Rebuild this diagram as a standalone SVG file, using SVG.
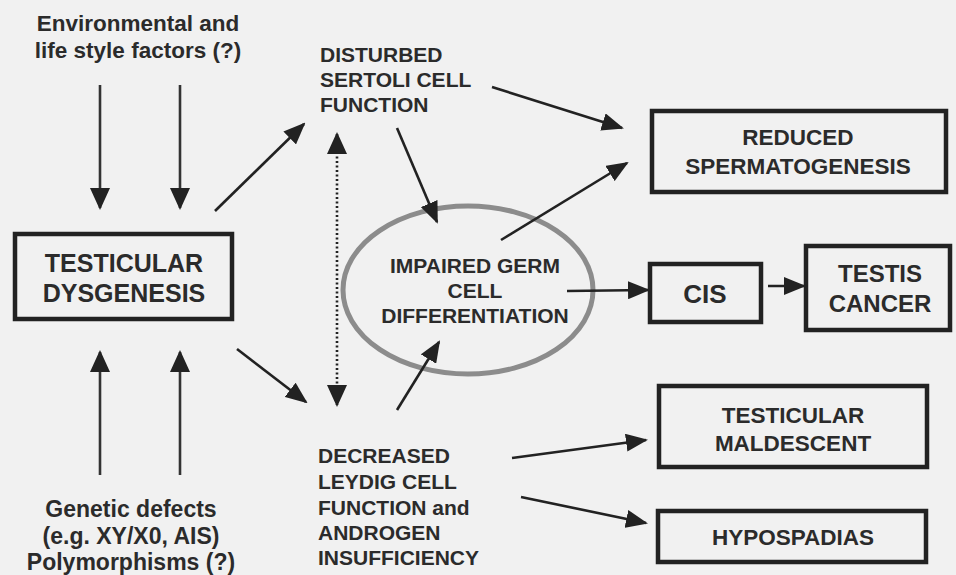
<svg xmlns="http://www.w3.org/2000/svg" width="956" height="575" viewBox="0 0 956 575">
<style>
.t{font-family:"Liberation Sans",Arial,sans-serif;font-weight:bold;fill:#2b2b2b}
.box{fill:none;stroke:#222;stroke-width:4.5}
.c{stroke:#222;stroke-width:2.6;fill:none;marker-end:url(#ah)}
.v{stroke:#333;stroke-width:2.6;fill:none;marker-end:url(#ahb)}
</style>
<defs>
<marker id="ah" viewBox="0 0 22 18" refX="20" refY="9" markerWidth="22" markerHeight="18" markerUnits="userSpaceOnUse" orient="auto-start-reverse">
<path d="M0,0 L22,9 L0,18 z" fill="#222"/>
</marker>
<marker id="ahb" viewBox="0 0 22 20" refX="20" refY="10" markerWidth="22" markerHeight="20" markerUnits="userSpaceOnUse" orient="auto-start-reverse">
<path d="M0,0 L22,10 L0,20 z" fill="#222"/>
</marker>
</defs>
<rect width="956" height="575" fill="#f1f1f1"/>

<g id="env">
<text class="t" font-size="22.5" text-anchor="middle" x="138" y="31">Environmental and</text>
<text class="t" font-size="22.5" text-anchor="middle" x="138" y="58">life style factors (?)</text>
</g>
<g id="genetic">
<text class="t" font-size="23" text-anchor="middle" x="131" y="517">Genetic defects</text>
<text class="t" font-size="23" text-anchor="middle" x="131" y="544">(e.g. XY/X0, AIS)</text>
<text class="t" font-size="23" text-anchor="middle" x="131" y="570">Polymorphisms (?)</text>
</g>
<g id="dysgenesis">
<rect class="box" x="15" y="234" width="217" height="85"/>
<text class="t" font-size="25" text-anchor="middle" x="124" y="272">TESTICULAR</text>
<text class="t" font-size="25" text-anchor="middle" x="124" y="302">DYSGENESIS</text>
</g>
<g id="sertoli">
<text class="t" font-size="21" x="320" y="62">DISTURBED</text>
<text class="t" font-size="21" x="320" y="87">SERTOLI CELL</text>
<text class="t" font-size="21" x="320" y="112">FUNCTION</text>
</g>
<g id="leydig">
<text class="t" font-size="21" x="318" y="463">DECREASED</text>
<text class="t" font-size="21" x="318" y="489">LEYDIG CELL</text>
<text class="t" font-size="21" x="318" y="515">FUNCTION and</text>
<text class="t" font-size="21" x="318" y="540">ANDROGEN</text>
<text class="t" font-size="21" x="318" y="565">INSUFFICIENCY</text>
</g>
<g id="germ">
<ellipse cx="468" cy="290" rx="125" ry="84" fill="none" stroke="#8c8c8c" stroke-width="5"/>
<text class="t" font-size="21" text-anchor="middle" x="475" y="273">IMPAIRED GERM</text>
<text class="t" font-size="21" text-anchor="middle" x="475" y="298">CELL</text>
<text class="t" font-size="21" text-anchor="middle" x="475" y="323">DIFFERENTIATION</text>
</g>
<g id="reduced">
<rect class="box" x="652" y="111" width="294" height="81"/>
<text class="t" font-size="22.5" text-anchor="middle" x="798" y="145">REDUCED</text>
<text class="t" font-size="22.5" text-anchor="middle" x="798" y="174">SPERMATOGENESIS</text>
</g>
<g id="cis">
<rect class="box" x="650" y="264" width="111" height="58"/>
<text class="t" font-size="26" text-anchor="middle" x="705" y="303">CIS</text>
</g>
<g id="cancer">
<rect class="box" x="806" y="246" width="144" height="84"/>
<text class="t" font-size="24" text-anchor="middle" x="880" y="282">TESTIS</text>
<text class="t" font-size="24" text-anchor="middle" x="880" y="312">CANCER</text>
</g>
<g id="maldescent">
<rect class="box" x="659" y="386" width="268" height="81"/>
<text class="t" font-size="22.5" text-anchor="middle" x="793" y="423">TESTICULAR</text>
<text class="t" font-size="22.5" text-anchor="middle" x="793" y="451">MALDESCENT</text>
</g>
<g id="hypospadias">
<rect class="box" x="658" y="511" width="268" height="51"/>
<text class="t" font-size="22.5" text-anchor="middle" x="793" y="545">HYPOSPADIAS</text>
</g>

<g id="connectors">
<line class="v" x1="100" y1="85" x2="100" y2="208"/>
<line class="v" x1="180" y1="85" x2="180" y2="208"/>
<line class="v" x1="100" y1="475" x2="100" y2="352"/>
<line class="v" x1="180" y1="475" x2="180" y2="352"/>
<line class="c" x1="215" y1="211" x2="304" y2="124"/>
<line class="c" x1="237" y1="349" x2="306" y2="402"/>
<line class="c" x1="492" y1="87" x2="622" y2="128"/>
<line class="c" x1="397" y1="128" x2="437" y2="222"/>
<line class="c" x1="501" y1="240" x2="627" y2="163"/>
<line class="c" x1="567" y1="291" x2="648" y2="290"/>
<line class="c" x1="397" y1="410" x2="439" y2="342"/>
<line class="c" x1="768" y1="286" x2="804" y2="286"/>
<line class="c" x1="512" y1="458" x2="646" y2="440"/>
<line class="c" x1="521" y1="497" x2="646" y2="523"/>
<line x1="337" y1="134" x2="337" y2="405" stroke="#222" stroke-width="2.6" stroke-dasharray="2 2.5" marker-start="url(#ahb)" marker-end="url(#ahb)"/>
</g>
</svg>
